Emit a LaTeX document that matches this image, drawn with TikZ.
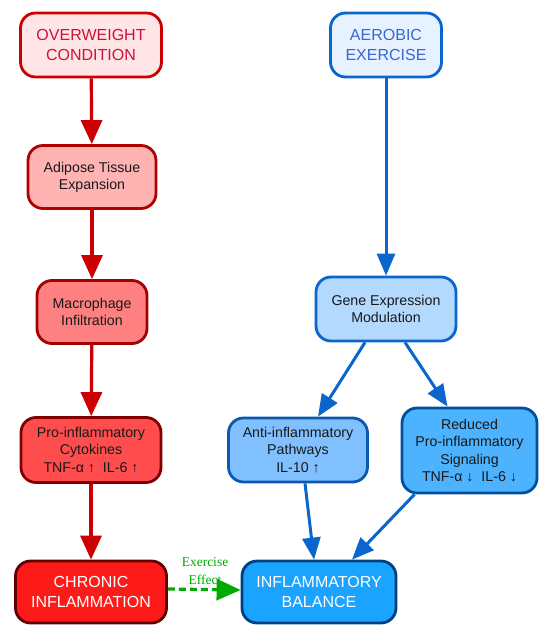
\documentclass[tikz,border=0pt]{standalone}
\usepackage{fontspec}
\setmainfont{Liberation Sans}
\newfontfamily\serifl{Liberation Serif}
\usetikzlibrary{arrows.meta}
\definecolor{rline}{HTML}{CC0000}
\definecolor{bline}{HTML}{0A66CC}
\definecolor{gline}{HTML}{00AA00}
\definecolor{owfill}{HTML}{FFE5E6}
\definecolor{owtext}{HTML}{D0103A}
\definecolor{adfill}{HTML}{FFB3B3}
\definecolor{addraw}{HTML}{B00000}
\definecolor{mafill}{HTML}{FF8080}
\definecolor{madraw}{HTML}{A00000}
\definecolor{pifill}{HTML}{FF4D4D}
\definecolor{pidraw}{HTML}{800000}
\definecolor{chfill}{HTML}{FF1A1A}
\definecolor{chdraw}{HTML}{600000}
\definecolor{aefill}{HTML}{E6F2FF}
\definecolor{aedraw}{HTML}{0A66CC}
\definecolor{aetext}{HTML}{3A66D0}
\definecolor{gefill}{HTML}{B3D9FF}
\definecolor{gedraw}{HTML}{0A66CC}
\definecolor{anfill}{HTML}{80C0FF}
\definecolor{andraw}{HTML}{0A58B0}
\definecolor{refill}{HTML}{4DB3FF}
\definecolor{redraw}{HTML}{0050A0}
\definecolor{bafill}{HTML}{1AA3FF}
\definecolor{badraw}{HTML}{004080}
\tikzset{
  box/.style={draw, rounded corners=15pt, align=center, inner sep=1pt, line width=2.8pt, text=black!90},
  rarr/.style={draw=rline, line width=3.2pt, -{Triangle[length=24pt,width=21pt]}},
  barr/.style={draw=bline, line width=3pt, -{Triangle[length=22pt,width=18pt]}},
  big/.style={font=\fontsize{16}{20}\selectfont},
  small/.style={font=\fontsize{14.2}{17.3}\selectfont},
}
\begin{document}
\begin{tikzpicture}[x=1pt,y=-1pt]
\useasboundingbox (0,0) rectangle (539,626);
% red column
\node[box,big,fill=owfill,draw=rline,text=owtext,minimum width=141pt,minimum height=64pt] (ow) at (91,45) {OVERWEIGHT\\CONDITION};
\node[box,small,fill=adfill,draw=addraw,minimum width=128pt,minimum height=63pt] (ad) at (92,177) {Adipose Tissue\\Expansion};
\node[box,small,fill=mafill,draw=madraw,minimum width=110pt,minimum height=63pt] (ma) at (92,312) {Macrophage\\Infiltration};
\node[box,small,fill=pifill,draw=pidraw,minimum width=140pt,minimum height=65pt] (pi) at (91,450) {Pro-inflammatory\\Cytokines\\TNF-α ↑\ \ IL-6 ↑};
\node[box,big,fill=chfill,draw=chdraw,text=white,minimum width=151pt,minimum height=62pt] (ch) at (91,592) {CHRONIC\\INFLAMMATION};
% blue column
\node[box,big,fill=aefill,draw=aedraw,text=aetext,minimum width=111pt,minimum height=64pt] (ae) at (386,45) {AEROBIC\\EXERCISE};
\node[box,small,fill=gefill,draw=gedraw,minimum width=140pt,minimum height=64pt] (ge) at (386,309) {Gene Expression\\Modulation};
\node[box,small,fill=anfill,draw=andraw,minimum width=139pt,minimum height=64pt] (an) at (298,450) {Anti-inflammatory\\Pathways\\IL-10 ↑};
\node[box,small,fill=refill,draw=redraw,minimum width=135pt,minimum height=85pt] (re) at (469.5,450.5) {Reduced\\Pro-inflammatory\\Signaling\\TNF-α ↓\ \ IL-6 ↓};
\node[box,big,fill=bafill,draw=badraw,text=white,minimum width=154pt,minimum height=62pt] (ba) at (319,592) {INFLAMMATORY\\BALANCE};
% red arrows
\draw[rarr] (ow) -- (ad);
\draw[rarr] (ad) -- (ma);
\draw[rarr] (ma) -- (pi);
\draw[rarr] (pi) -- (ch);
% blue arrows
\draw[barr] (ae) -- (ge);
\draw[barr] ([xshift=-21pt]ge.south) -- ([xshift=20pt]an.north);
\draw[barr] ([xshift=19pt]ge.south) -- ([xshift=-22pt]re.north);
\draw[barr] ([xshift=7pt]an.south) -- ([xshift=-5pt]ba.north);
\draw[barr] ([xshift=-55pt]re.south) -- ([xshift=33pt]ba.north);
% exercise effect
\draw[draw=gline, line width=3.2pt, dash pattern=on 7pt off 4pt, -{Triangle[length=24pt,width=21pt]}] ([yshift=3pt]ch.east) -- ([yshift=2pt]ba.west);
\node[text=gline, font=\serifl\fontsize{13.5}{18}\selectfont, align=center] (lbl) at (205,571) {Exercise\\Effect};
\end{tikzpicture}
\end{document}
